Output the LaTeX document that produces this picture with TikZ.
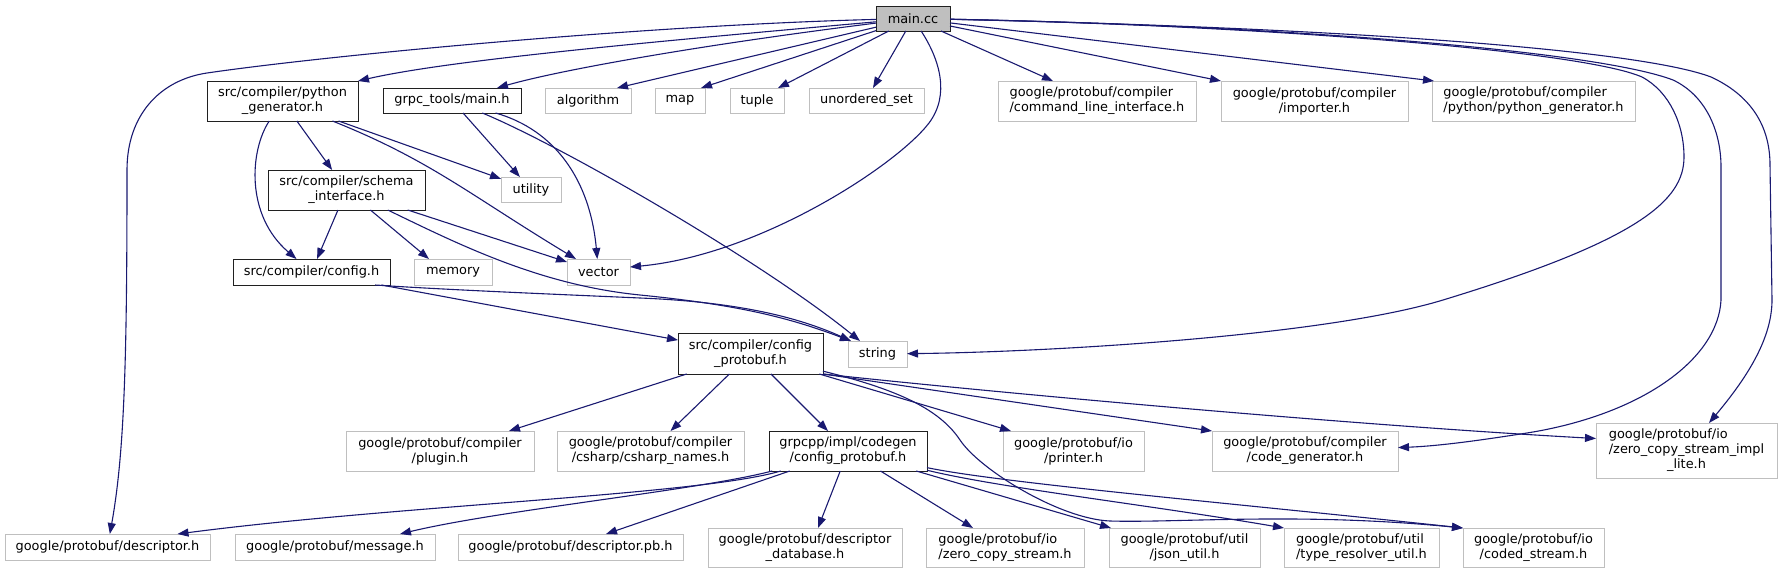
\documentclass[tikz,border=0pt]{standalone}
\usepackage{fontspec}
\setmainfont{DejaVu Sans}
\usetikzlibrary{arrows.meta}
\definecolor{edgec}{HTML}{191970}
\definecolor{extc}{HTML}{BFBFBF}
\definecolor{mainfill}{HTML}{BFBFBF}
\definecolor{ownc}{HTML}{202020}
\newcommand{\dgfont}{\fontsize{12.9pt}{15pt}\selectfont}
\begin{document}
\begin{tikzpicture}[x=1pt,y=-1pt,
  nd/.style={rectangle, inner sep=0pt, outer sep=0pt, align=center, font=\dgfont, line width=1pt},
  own/.style={nd, draw=ownc, line width=1pt},
  ext/.style={nd, draw=extc},
  sz/.style 2 args={minimum width=#1, minimum height=#2},
  dep/.style={draw=edgec, line width=1.1pt, -{Triangle[length=11pt,width=8pt]}}
]
\useasboundingbox (0,0) rectangle (1783,573);
% row 1
\node[own, fill=mainfill, sz={74}{25}] (main) at (913,18.5) {main.cc};
% row 2
\node[own, sz={151}{40}] (pygen) at (282.5,101) {src/compiler/python\\\_generator.h};
\node[own, sz={138}{25}] (gtmain) at (452,100.5) {grpc\_tools/main.h};
\node[ext, sz={86}{25}] (algorithm) at (588,100.5) {algorithm};
\node[ext, sz={50}{25}] (map) at (680,100.5) {map};
\node[ext, sz={54}{25}] (tuple) at (757,100.5) {tuple};
\node[ext, sz={115}{25}] (uset) at (866.5,100.5) {unordered\_set};
\node[ext, sz={198}{40}] (cli) at (1097,101) {\rlap{google/protobuf/compiler}\phantom{/command\_line\_interface.h}\\/command\_line\_interface.h};
\node[ext, sz={187}{40}] (importer) at (1314.5,101) {google/protobuf/compiler\\/importer.h};
\node[ext, sz={203}{40}] (pypygen) at (1533.5,101) {\rlap{google/protobuf/compiler}\phantom{/python/python\_generator.h}\\/python/python\_generator.h};
% row 3
\node[own, sz={157}{40}] (schema) at (346.5,190) {src/compiler/schema\\\_interface.h};
\node[ext, sz={60}{25}] (utility) at (531,189.5) {utility};
% row 4
\node[own, sz={157}{26}] (configh) at (311.5,272) {src/compiler/config.h};
\node[ext, sz={78}{26}] (memory) at (453,272) {memory};
\node[ext, sz={63}{26}] (vector) at (598.5,272) {vector};
% row 5
\node[own, sz={145}{41}] (cfgpb) at (750.5,353.5) {src/compiler/config\\\_protobuf.h};
\node[ext, sz={59}{26}] (string) at (877.5,354) {string};
% row 6
\node[ext, sz={188}{40}] (plugin) at (440,451) {google/protobuf/compiler\\/plugin.h};
\node[ext, sz={187}{40}] (csharp) at (650.5,451) {google/protobuf/compiler\\/csharp/csharp\_names.h};
\node[own, sz={158}{40}] (grpcpp) at (848,451) {grpcpp/impl/codegen\\/config\_protobuf.h};
\node[ext, sz={141}{40}] (printer) at (1073.5,451) {google/protobuf/io\\/printer.h};
\node[ext, sz={186}{40}] (codegen) at (1305,451) {google/protobuf/compiler\\/code\_generator.h};
\node[ext, sz={181}{55}] (zcsil) at (1686.5,450.5) {\rlap{google/protobuf/io}\phantom{/zero\_copy\_stream\_impl}\\/zero\_copy\_stream\_impl\\\_lite.h};
% row 7
\node[ext, sz={205}{26}] (descriptor) at (107.5,547) {google/protobuf/descriptor.h};
\node[ext, sz={200}{26}] (message) at (335,547) {google/protobuf/message.h};
\node[ext, sz={225}{26}] (descpb) at (570.5,547) {google/protobuf/descriptor.pb.h};
\node[ext, sz={194}{39}] (descdb) at (805,547.5) {google/protobuf/descriptor\\\_database.h};
\node[ext, sz={158}{39}] (zcs) at (1005,547.5) {\rlap{google/protobuf/io}\phantom{/zero\_copy\_stream.h}\\/zero\_copy\_stream.h};
\node[ext, sz={151}{39}] (json) at (1184.5,547.5) {google/protobuf/util\\/json\_util.h};
\node[ext, sz={155}{39}] (typeres) at (1361.5,547.5) {\rlap{google/protobuf/util}\phantom{/type\_resolver\_util.h}\\/type\_resolver\_util.h};
\node[ext, sz={141}{39}] (coded) at (1533.5,547.5) {google/protobuf/io\\/coded\_stream.h};

% ---- edges from main.cc
\draw[dep] (main) .. controls (650,25) and (330,55) .. (207,73) .. controls (160,80) and (127,115) .. (127,170) .. controls (127,350) and (125,450) .. (descriptor);
\draw[dep] (main) .. controls (650,42) and (450,60) .. (pygen.north east);
\draw[dep] (main) .. controls (700,45) and (560,70) .. ([xshift=-24]gtmain.north east);
\draw[dep] (main) -- ([xshift=-14]algorithm.north east);
\draw[dep] (main) -- ([xshift=-4]map.north east);
\draw[dep] (main) -- ([xshift=-6]tuple.north east);
\draw[dep] (main) -- ([xshift=6.5]uset.north);
\draw[dep] (main) .. controls (940,60) and (950,95) .. (929,123) .. controls (897,165) and (760,255) .. ([yshift=5]vector.east);
\draw[dep] (main) -- ([xshift=-44]cli.north);
\draw[dep] (main) -- (importer.north west);
\draw[dep] (main) -- ([xshift=2]pypygen.north west);
\draw[dep] (main) .. controls (1250,25) and (1580,50) .. (1642,77) .. controls (1670,92) and (1684,125) .. (1684,157) .. controls (1684,200) and (1640,240) .. (1443,300) .. controls (1325,336) and (1050,352) .. (string);
\draw[dep] (main) .. controls (1300,26) and (1600,52) .. (1673,80) .. controls (1705,95) and (1721,130) .. (1721,167) -- (1721,300) .. controls (1718,360) and (1640,415) .. (1527,433) .. controls (1482,440) and (1440,446) .. (codegen);
\draw[dep] (main) .. controls (1350,28) and (1640,50) .. (1711,77) .. controls (1750,95) and (1770,125) .. (1770,165) -- (1772,300) .. controls (1772,340) and (1745,380) .. ([xshift=22.5]zcsil.north);

% ---- python_generator.h
\draw[dep] (pygen) .. controls (250,150) and (245,215) .. ([xshift=-15]configh.north);
\draw[dep] (pygen) -- (schema);
\draw[dep] (pygen) -- (utility);
\draw[dep] (pygen) .. controls (430,160) and (470,195) .. ([xshift=-22.5]vector.north);

% ---- grpc_tools/main.h
\draw[dep] (gtmain) -- (utility);
\draw[dep] (gtmain) .. controls (555,130) and (590,180) .. (vector);
\draw[dep] (gtmain) .. controls (560,145) and (760,260) .. ([xshift=-17.5]string.north);

% ---- schema_interface.h
\draw[dep] (schema) -- (configh);
\draw[dep] (schema) -- ([xshift=-24]memory.north);
\draw[dep] (schema) -- ([yshift=-3]vector.north west);
\draw[dep] (schema) .. controls (460,245) and (540,285) .. (640,295) .. controls (740,305) and (790,318) .. ([xshift=3]string.north west);

% ---- config.h
\draw[dep] ([xshift=-15]configh.south east) .. controls (450,290) and (550,294) .. (640,298) .. controls (740,302) and (800,318) .. ([xshift=3]string.north west);
\draw[dep] (configh) -- (cfgpb);

% ---- config_protobuf.h
\draw[dep] (cfgpb) -- ([xshift=69]plugin.north);
\draw[dep] (cfgpb) -- ([xshift=20]csharp.north);
\draw[dep] (cfgpb) -- ([xshift=-20]grpcpp.north);
\draw[dep] (cfgpb) -- ([xshift=-62.5]printer.north);
\draw[dep] (cfgpb.south east) -- (codegen.north west);
\draw[dep] (cfgpb.south east) .. controls (1000,393) and (1350,425) .. ([yshift=12]zcsil.west);
\draw[dep] (cfgpb) .. controls (900,390) and (940,410) .. (960,440) .. controls (980,470) and (1060,519) .. (1110,521) .. controls (1180,523) and (1300,512) .. (coded.north west);

% ---- grpcpp config_protobuf.h
\draw[dep] (grpcpp) .. controls (700,495) and (400,505) .. ([xshift=70]descriptor.north);
\draw[dep] (grpcpp) .. controls (700,490) and (500,510) .. ([xshift=65]message.north);
\draw[dep] (grpcpp) -- ([xshift=35.5]descpb.north);
\draw[dep] (grpcpp) -- ([xshift=13]descdb.north);
\draw[dep] (grpcpp) -- ([xshift=-32]zcs.north);
\draw[dep] (grpcpp) -- ([xshift=2]json.north west);
\draw[dep] (grpcpp) .. controls (1000,488) and (1150,505) .. (typeres.north west);
\draw[dep] (grpcpp) .. controls (1000,483) and (1250,505) .. (coded.north west);
\end{tikzpicture}
\end{document}
